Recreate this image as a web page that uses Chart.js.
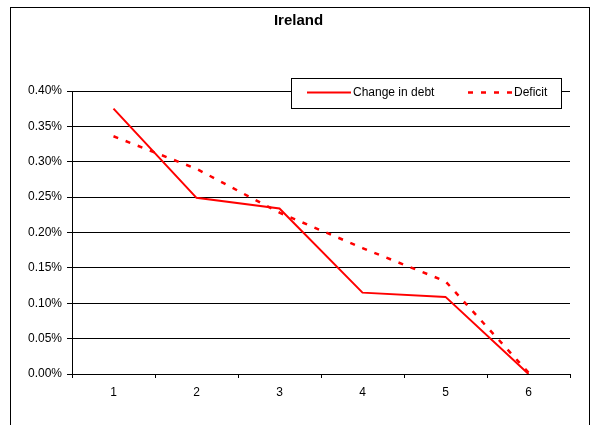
<!DOCTYPE html>
<html>
<head>
<meta charset="utf-8">
<script src="https://cdn.jsdelivr.net/npm/chart.js@4/dist/chart.umd.min.js"></script>
<style>
  html, body { margin: 0; padding: 0; background: #fff; }
  #wrap { width: 596px; height: 425px; position: relative; }
</style>
</head>
<body>
<div id="wrap"><canvas id="c" width="596" height="425"></canvas></div>
<script>
const categories = ['1', '2', '3', '4', '5', '6'];
const changeInDebt = [0.375, 0.249, 0.234, 0.115, 0.109, 0.0];
const deficit = [0.336, 0.290, 0.228, 0.178, 0.131, 0.002];
const seriesNames = ['Change in debt', 'Deficit'];
const chartTitle = 'Ireland';

const FONT = '"Liberation Sans", Arial, sans-serif';

const frameAndLegend = {
  id: 'frameAndLegend',
  beforeDraw(chart) {
    const ctx = chart.ctx;
    ctx.save();
    ctx.fillStyle = '#fff';
    ctx.fillRect(0, 0, chart.width, chart.height);
    ctx.strokeStyle = '#000';
    ctx.lineWidth = 1;
    ctx.strokeRect(10.5, 7.5, 579, 500);
    // title
    ctx.fillStyle = '#000';
    ctx.font = 'bold 15px ' + FONT;
    ctx.textAlign = 'center';
    ctx.textBaseline = 'middle';
    ctx.fillText(chartTitle, 298.5, 20.5);
    ctx.restore();
  },
  afterDraw(chart) {
    const ctx = chart.ctx;
    ctx.save();
    // legend box
    ctx.fillStyle = '#fff';
    ctx.fillRect(291, 78, 271, 30);
    ctx.strokeStyle = '#000';
    ctx.lineWidth = 1;
    ctx.strokeRect(291.5, 78.5, 270, 30);
    const y = 92.5;
    ctx.strokeStyle = '#ff0000';
    ctx.lineWidth = 2;
    ctx.beginPath();
    ctx.moveTo(307, y); ctx.lineTo(351, y);
    ctx.stroke();
    ctx.lineWidth = 2.5;
    ctx.setLineDash([5, 8]);
    ctx.beginPath();
    ctx.moveTo(468, y); ctx.lineTo(512, y);
    ctx.stroke();
    ctx.setLineDash([]);
    ctx.fillStyle = '#000';
    ctx.font = '12px ' + FONT;
    ctx.textBaseline = 'middle';
    ctx.textAlign = 'left';
    ctx.fillText(seriesNames[0], 353, y);
    ctx.fillText(seriesNames[1], 514, y);
    ctx.restore();
  }
};

new Chart(document.getElementById('c'), {
  type: 'line',
  data: {
    labels: categories,
    datasets: [
      {
        label: seriesNames[0],
        data: changeInDebt,
        borderColor: '#ff0000',
        borderWidth: 2,
        pointRadius: 0,
        tension: 0,
        fill: false
      },
      {
        label: seriesNames[1],
        data: deficit,
        borderColor: '#ff0000',
        borderWidth: 2.5,
        borderDash: [5, 8],
        pointRadius: 0,
        tension: 0,
        fill: false
      }
    ]
  },
  options: {
    responsive: false,
    animation: false,
    devicePixelRatio: 1,
    layout: { padding: { left: 0, right: 26, top: 91, bottom: 0 } },
    plugins: {
      legend: { display: false },
      tooltip: { enabled: false },
      title: { display: false }
    },
    scales: {
      x: {
        offset: true,
        grid: {
          offset: true,
          drawOnChartArea: false,
          drawTicks: true,
          tickLength: 4,
          color: '#000'
        },
        border: { color: '#000', width: 1 },
        ticks: {
          color: '#000',
          font: { family: FONT, size: 12 },
          padding: 7,
          maxRotation: 0
        },
        afterFit(scale) { scale.height = 51; }
      },
      y: {
        min: 0,
        max: 0.4,
        ticks: {
          stepSize: 0.05,
          color: '#000',
          font: { family: FONT, size: 12 },
          padding: 5,
          callback: v => v.toFixed(2) + '%'
        },
        grid: {
          color: '#000',
          tickLength: 5,
          lineWidth: 1
        },
        border: { color: '#000', width: 1 },
        afterFit(scale) { scale.width = 72; }
      }
    }
  },
  plugins: [frameAndLegend]
});
</script>
</body>
</html>
